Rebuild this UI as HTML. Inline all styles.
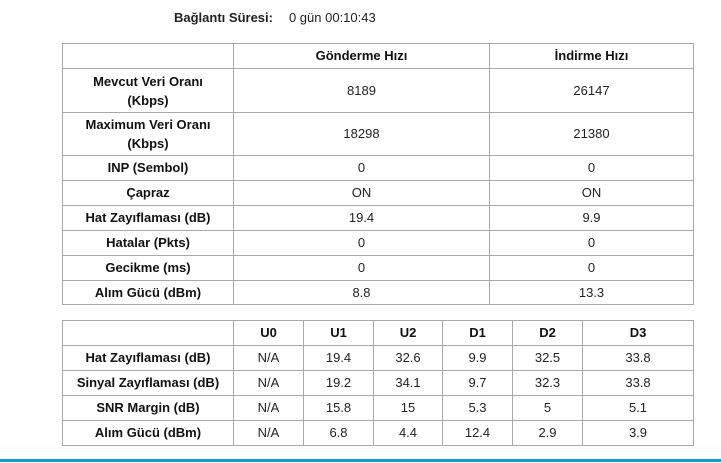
<!DOCTYPE html>
<html><head><meta charset="utf-8"><style>
body{margin:0;width:721px;height:463px;background:#fff;position:relative;overflow:hidden;font-family:"Liberation Sans",Arial,sans-serif;font-size:13px;color:#222}
table{position:absolute;border-collapse:collapse;table-layout:fixed}
td{border:1px solid #a8a8a8;text-align:center;padding:0;line-height:16px}
td.b,tr.h td{font-weight:bold;color:#111}
td.t{line-height:19px}
#t1{left:62px;top:43px;width:631px}
#t2{left:62px;top:320px;width:631px}
#top{position:absolute;top:10px;left:174px;font-size:13px}
#line{position:absolute;left:0;top:459px;width:721px;height:3px;background:#1a9bd0}
</style></head><body>
<div id="top"><b>Bağlantı Süresi:</b><span style="margin-left:16px">0 gün 00:10:43</span></div>
<table id="t1">
<colgroup><col style="width:171px"><col style="width:256px"><col style="width:204px"></colgroup>
<tr class="h" style="height:25px"><td></td><td>Gönderme Hızı</td><td>İndirme Hızı</td></tr>
<tr style="height:44px"><td class="b t">Mevcut Veri Oranı<br>(Kbps)</td><td>8189</td><td>26147</td></tr>
<tr style="height:43px"><td class="b t">Maximum Veri Oranı<br>(Kbps)</td><td>18298</td><td>21380</td></tr>
<tr style="height:25px"><td class="b">INP (Sembol)</td><td>0</td><td>0</td></tr>
<tr style="height:25px"><td class="b">Çapraz</td><td>ON</td><td>ON</td></tr>
<tr style="height:25px"><td class="b">Hat Zayıflaması (dB)</td><td>19.4</td><td>9.9</td></tr>
<tr style="height:25px"><td class="b">Hatalar (Pkts)</td><td>0</td><td>0</td></tr>
<tr style="height:25px"><td class="b">Gecikme (ms)</td><td>0</td><td>0</td></tr>
<tr style="height:24px"><td class="b">Alım Gücü (dBm)</td><td>8.8</td><td>13.3</td></tr>
</table>
<table id="t2">
<colgroup><col style="width:171px"><col style="width:70px"><col style="width:70px"><col style="width:69px"><col style="width:70px"><col style="width:70px"><col style="width:111px"></colgroup>
<tr class="h" style="height:25px"><td></td><td>U0</td><td>U1</td><td>U2</td><td>D1</td><td>D2</td><td>D3</td></tr>
<tr style="height:25px"><td class="b">Hat Zayıflaması (dB)</td><td>N/A</td><td>19.4</td><td>32.6</td><td>9.9</td><td>32.5</td><td>33.8</td></tr>
<tr style="height:25px"><td class="b">Sinyal Zayıflaması (dB)</td><td>N/A</td><td>19.2</td><td>34.1</td><td>9.7</td><td>32.3</td><td>33.8</td></tr>
<tr style="height:25px"><td class="b">SNR Margin (dB)</td><td>N/A</td><td>15.8</td><td>15</td><td>5.3</td><td>5</td><td>5.1</td></tr>
<tr style="height:25px"><td class="b">Alım Gücü (dBm)</td><td>N/A</td><td>6.8</td><td>4.4</td><td>12.4</td><td>2.9</td><td>3.9</td></tr>
</table>
<div id="line"></div>
</body></html>
